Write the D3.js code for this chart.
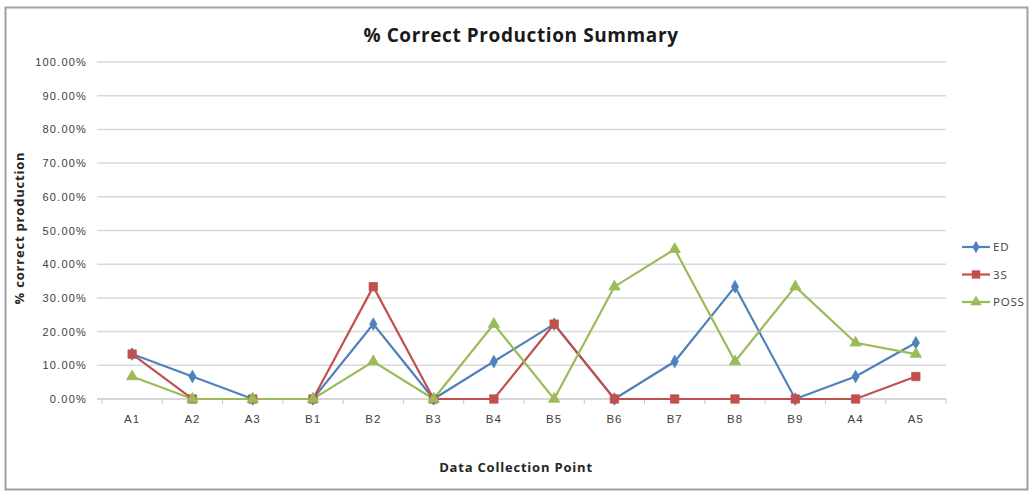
<!DOCTYPE html>
<html><head><meta charset="utf-8">
<script src="https://cdn.jsdelivr.net/npm/d3@7"></script>
<style>body{margin:0;background:#fff;}svg{display:block;font-family:"Open Sans","DejaVu Sans",sans-serif;}</style>
</head><body><svg id="c" width="1032" height="494"></svg>
<script>
const categories = ["A1","A2","A3","B1","B2","B3","B4","B5","B6","B7","B8","B9","A4","A5"];
const seriesNames = ["ED","3S","POSS"];
const edValues   = [0.1333,0.0667,0,0,0.2222,0,0.1111,0.2222,0,0.1111,0.3333,0,0.0667,0.1667];
const s3Values   = [0.1333,0,0,0,0.3333,0,0,0.2222,0,0,0,0,0,0.0667];
const possValues = [0.0667,0,0,0,0.1111,0,0.2222,0,0.3333,0.4444,0.1111,0.3333,0.1667,0.1333];
const yTicks = [0,0.1,0.2,0.3,0.4,0.5,0.6,0.7,0.8,0.9,1.0];
const colors = ["#4F81BD","#C0504D","#9BBB59"];
const symbols = [d3.symbolDiamond, d3.symbolSquare, d3.symbolTriangle];
const symSizes = [45, 70, 55];

const svg = d3.select("#c");
svg.append("rect").attr("x",5.5).attr("y",7.5).attr("width",1022).attr("height",482)
  .attr("fill","#fff").attr("stroke","#a0a0a0").attr("stroke-width",2);

const x = d3.scaleBand().domain(categories).range([102,946]);
const y = d3.scaleLinear().domain([0,1]).range([399,62]);

svg.append("g").selectAll("line").data(yTicks.slice(1)).join("line")
  .attr("x1",97).attr("x2",946).attr("y1",d=>y(d)).attr("y2",d=>y(d))
  .attr("stroke","#d9d9d9").attr("stroke-width",1.5);

const yAxis = d3.axisLeft(y).tickValues(yTicks).tickFormat(d=>(d*100).toFixed(2)+"%").tickSize(0).tickPadding(10);
const gy = svg.append("g").attr("transform","translate(97,0)").call(yAxis);
gy.select(".domain").remove();
gy.selectAll("text").attr("font-size",11).attr("letter-spacing",1.2).attr("fill","#404040");

const xAxis = d3.axisBottom(x).tickSize(0).tickPadding(16);
const gx = svg.append("g").attr("transform","translate(0,399)").call(xAxis);
gx.select(".domain").attr("stroke","#c8c8c8").attr("stroke-width",1.5).attr("d","M97,0H946");
gx.selectAll("text").attr("font-size",11.5).attr("letter-spacing",1).attr("fill","#404040");
svg.append("g").selectAll("line").data(categories).join("line")
  .attr("x1",d=>x(d)).attr("x2",d=>x(d)).attr("y1",399).attr("y2",404)
  .attr("stroke","#c8c8c8");
svg.append("line").attr("x1",946).attr("x2",946).attr("y1",399).attr("y2",404).attr("stroke","#c8c8c8");

const all = [edValues, s3Values, possValues];
const line = d3.line().x((d,i)=>x(categories[i])+x.bandwidth()/2).y(d=>y(d));
all.forEach((vals,k)=>{
  svg.append("path").datum(vals).attr("d",line).attr("fill","none")
    .attr("stroke",colors[k]).attr("stroke-width",2.2);
});
all.forEach((vals,k)=>{
  svg.append("g").selectAll("path").data(vals).join("path")
    .attr("transform",(d,i)=>`translate(${x(categories[i])+x.bandwidth()/2},${y(d)})`)
    .attr("d",d3.symbol().type(symbols[k]).size(symSizes[k]))
    .attr("fill",colors[k]).attr("stroke",colors[k]).attr("stroke-width",0.8);
});

const leg = svg.append("g");
seriesNames.forEach((n,k)=>{
  const ly = 247 + k*27.5;
  leg.append("line").attr("x1",962).attr("x2",990).attr("y1",ly).attr("y2",ly).attr("stroke",colors[k]).attr("stroke-width",2.2);
  leg.append("path").attr("transform",`translate(976,${ly})`).attr("d",d3.symbol().type(symbols[k]).size(symSizes[k]))
    .attr("fill",colors[k]);
  leg.append("text").attr("x",993).attr("y",ly).attr("dy","0.35em").attr("font-size",11.5).attr("letter-spacing",0.8).attr("fill","#404040").text(n);
});

svg.append("text").attr("x",521).attr("y",42).attr("text-anchor","middle").attr("font-size",19).attr("letter-spacing",0.6).attr("font-weight","bold").attr("fill","#1a1a1a").text("% Correct Production Summary");
svg.append("text").attr("x",516).attr("y",472).attr("text-anchor","middle").attr("font-size",13).attr("letter-spacing",0.8).attr("font-weight","bold").attr("fill","#262626").text("Data Collection Point");
svg.append("text").attr("transform","translate(24,228) rotate(-90)").attr("text-anchor","middle").attr("font-size",13).attr("letter-spacing",0.8).attr("font-weight","bold").attr("fill","#262626").text("% correct production");
</script></body></html>
